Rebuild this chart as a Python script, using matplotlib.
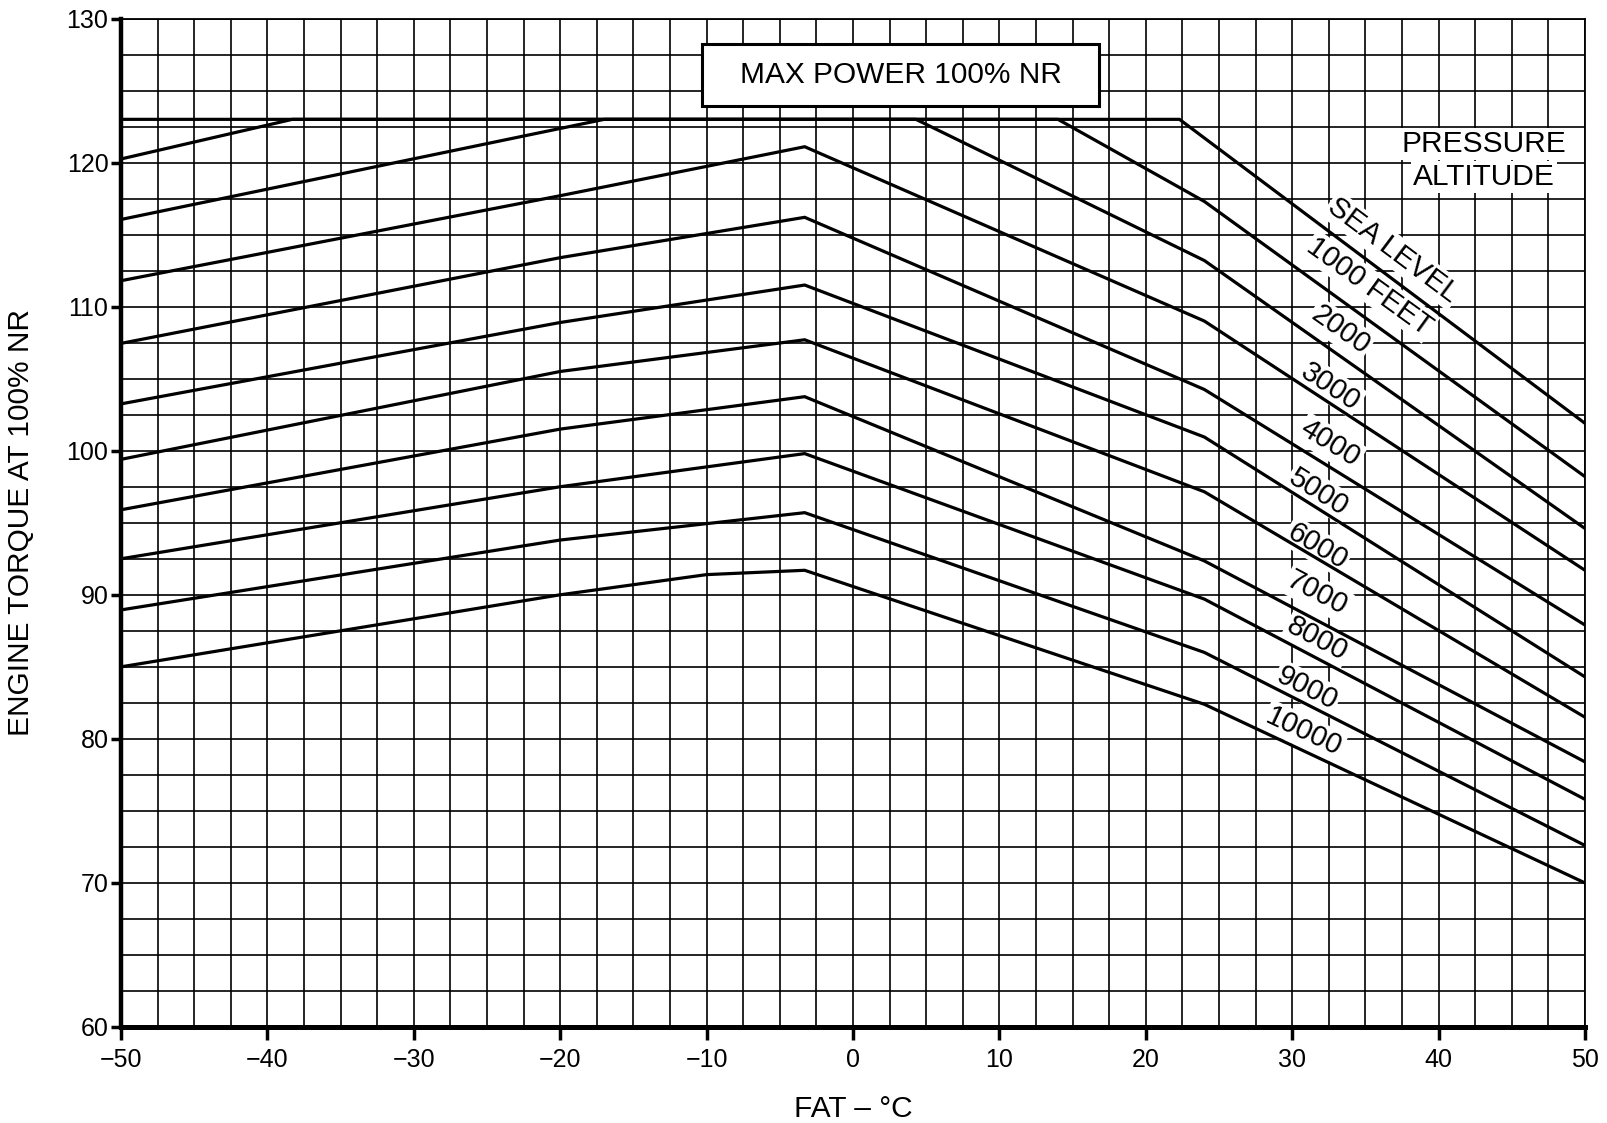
import numpy as np
import matplotlib
matplotlib.use('Agg')
import matplotlib.pyplot as plt
from matplotlib.ticker import MultipleLocator
from matplotlib.patches import Rectangle

plt.rcParams['font.family'] = ['Liberation Sans', 'DejaVu Sans']

# engine torque (%) at 100% NR against FAT (deg C), one curve per pressure altitude
altitudes = ['SEA LEVEL', '1000 FEET', '2000', '3000', '4000', '5000',
             '6000', '7000', '8000', '9000', '10000']

fat_sl = [-50, 22.3, 50]
trq_sl = [123.0, 123.0, 101.9]
fat_1000 = [-50, -38.3, 14.0, 24, 50]
trq_1000 = [120.25, 123.0, 123.0, 117.3, 98.2]
fat_2000 = [-50, -17.0, 4.3, 24, 50]
trq_2000 = [116.05, 123.0, 123.0, 113.2, 94.6]
fat_3000 = [-50, -20, -3.3, 24, 50]
trq_3000 = [111.8, 117.7, 121.1, 109.0, 91.7]
fat_4000 = [-50, -20, -3.3, 24, 50]
trq_4000 = [107.45, 113.4, 116.2, 104.25, 87.9]
fat_5000 = [-50, -20, -3.3, 24, 50]
trq_5000 = [103.25, 108.9, 111.5, 100.95, 84.3]
fat_6000 = [-50, -20, -3.3, 24, 50]
trq_6000 = [99.4, 105.5, 107.7, 97.15, 81.5]
fat_7000 = [-50, -20, -3.3, 24, 50]
trq_7000 = [95.9, 101.5, 103.75, 92.35, 78.4]
fat_8000 = [-50, -20, -3.3, 24, 50]
trq_8000 = [92.5, 97.5, 99.8, 89.7, 75.8]
fat_9000 = [-50, -20, -3.3, 24, 50]
trq_9000 = [88.95, 93.8, 95.7, 86.0, 72.6]
fat_10000 = [-50, -20, -10, -3.3, 24, 50]
trq_10000 = [85.0, 90.0, 91.4, 91.7, 82.4, 70.0]

# where each altitude name sits (text centre)
label_fat = [36.9, 35.3, 33.3, 32.6, 32.6, 31.8, 31.7, 31.7, 31.7, 31.0, 30.8]
label_trq = [113.9, 111.4, 108.4, 104.45, 100.5, 97.1, 93.35, 90.1, 86.9, 83.5, 80.5]

x_ticks = list(range(-50, 51, 10))
y_ticks = list(range(60, 131, 10))

curves = [(fat_sl, trq_sl), (fat_1000, trq_1000), (fat_2000, trq_2000),
          (fat_3000, trq_3000), (fat_4000, trq_4000), (fat_5000, trq_5000),
          (fat_6000, trq_6000), (fat_7000, trq_7000), (fat_8000, trq_8000),
          (fat_9000, trq_9000), (fat_10000, trq_10000)]

fig = plt.figure(figsize=(16.07, 11.23), dpi=100)
ax = fig.add_axes([121 / 1607, 1 - 1027 / 1123, 1464 / 1607, 1008.5 / 1123])
ax.set_xlim(-50, 50)
ax.set_ylim(60, 130)

# graph paper
ax.set_xticks(x_ticks)
ax.set_yticks(y_ticks)
ax.xaxis.set_minor_locator(MultipleLocator(2.5))
ax.yaxis.set_minor_locator(MultipleLocator(2.5))
ax.grid(which='both', color='black', linewidth=1.2)
ax.tick_params(which='minor', length=0)
ax.tick_params(axis='y', which='major', length=7, width=2.5, pad=2, labelsize=18)
ax.tick_params(axis='x', which='major', length=9, width=2.5, pad=6, labelsize=18)
ax.spines['left'].set_linewidth(3.2)
ax.spines['bottom'].set_linewidth(3.6)
ax.spines['top'].set_linewidth(1.3)
ax.spines['right'].set_linewidth(1.3)

for fx, ty in curves:
    ax.plot(fx, ty, color='black', linewidth=2.3, solid_joinstyle='miter')

# altitude names rotated along the falling part of each curve
for name, (fx, ty), lx, ly in zip(altitudes, curves, label_fat, label_trq):
    p0 = ax.transData.transform((fx[-2], ty[-2]))
    p1 = ax.transData.transform((fx[-1], ty[-1]))
    ang = np.degrees(np.arctan2(p1[1] - p0[1], p1[0] - p0[0]))
    ax.text(lx, ly, name, rotation=ang, rotation_mode='anchor',
            ha='center', va='center', fontsize=21, zorder=1.8,
            bbox=dict(facecolor='white', edgecolor='none', pad=1.5))

ax.text(43.1, 121.3, 'PRESSURE', ha='center', va='center', fontsize=21.5,
        zorder=1.8, bbox=dict(facecolor='white', edgecolor='none', pad=1.5))
ax.text(43.1, 119.0, 'ALTITUDE', ha='center', va='center', fontsize=21.5,
        zorder=1.8, bbox=dict(facecolor='white', edgecolor='none', pad=1.5))

ax.add_patch(Rectangle((-10.3, 123.9), 27.1, 4.3, facecolor='white',
                       edgecolor='black', linewidth=2.2, zorder=4))
ax.text(3.25, 126.05, 'MAX POWER 100% NR', ha='center', va='center',
        fontsize=21.5, zorder=5)

ax.set_xlabel('FAT – °C', fontsize=21.5, va='center')
ax.xaxis.set_label_coords(0.5, -0.081)
ax.set_ylabel('ENGINE TORQUE AT 100% NR', fontsize=21.5, va='center')
ax.yaxis.set_label_coords(-0.068, 0.5)

fig.savefig('out.png', dpi=100)
